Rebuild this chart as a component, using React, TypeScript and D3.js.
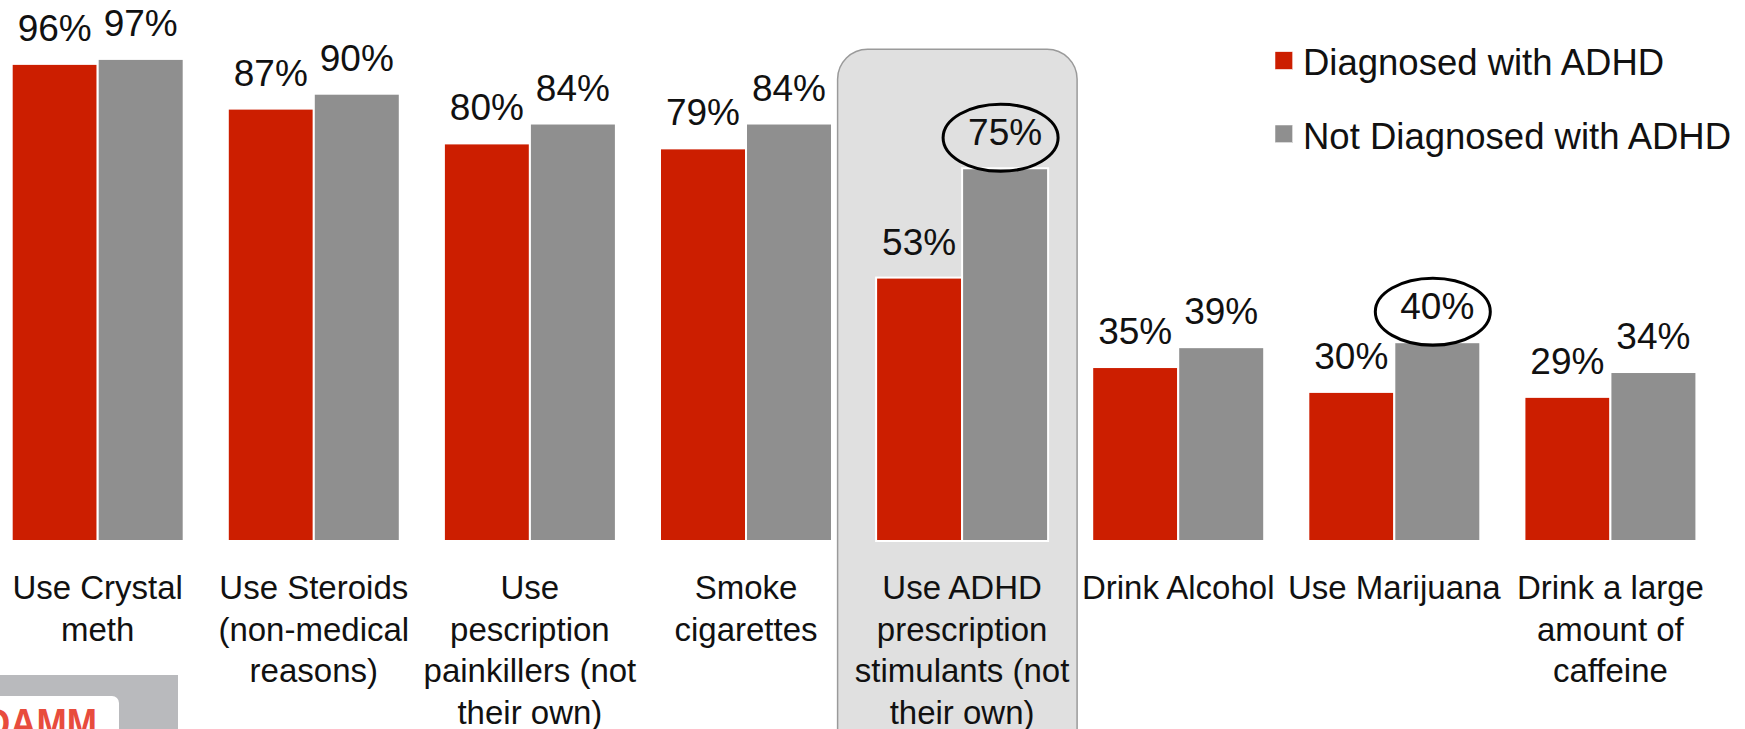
import React from "react";
import * as d3 from "d3";

const W = 1745;
const H = 729;

const categories = [
  "Use Crystal meth",
  "Use Steroids (non-medical reasons)",
  "Use pescription painkillers (not their own)",
  "Smoke cigarettes",
  "Use ADHD prescription stimulants (not their own)",
  "Drink Alcohol",
  "Use Marijuana",
  "Drink a large amount of caffeine",
];

const categoryLines = [
  ["Use Crystal", "meth"],
  ["Use Steroids", "(non-medical", "reasons)"],
  ["Use", "pescription", "painkillers (not", "their own)"],
  ["Smoke", "cigarettes"],
  ["Use ADHD", "prescription", "stimulants (not", "their own)"],
  ["Drink Alcohol"],
  ["Use Marijuana"],
  ["Drink a large", "amount of", "caffeine"],
];

const seriesNames = ["Diagnosed with ADHD", "Not Diagnosed with ADHD"];
const seriesColors = ["#cc1e00", "#8f8f8f"];

const diagnosed = [96, 87, 80, 79, 53, 35, 30, 29];
const notDiagnosed = [97, 90, 84, 84, 75, 39, 40, 34];

const highlightedCategory = "Use ADHD prescription stimulants (not their own)";
const circledNotDiagnosed = ["Use ADHD prescription stimulants (not their own)", "Use Marijuana"];

const FONT = "'Liberation Sans', Arial, Helvetica, sans-serif";

export default function App() {
  const x = d3
    .scaleBand<string>()
    .domain(categories)
    .range([-10.35, 1718.45])
    .paddingInner(0.2041)
    .paddingOuter(0.102);
  const inner = d3.scaleBand<string>().domain(seriesNames).range([0, x.bandwidth()]).padding(0);
  const y = d3.scaleLinear().domain([0, 100]).range([541, 44]);

  const seriesValues = [diagnosed, notDiagnosed];

  const hx = (x(highlightedCategory) as number) + x.bandwidth() / 2 - 124.5;

  return (
    <div style={{ position: "absolute", left: 0, top: 0, width: W, height: H, overflow: "hidden", background: "#fff" }}>
      <svg width={W} height={H} style={{ display: "block" }} fontFamily={FONT}>
        <rect x={0} y={0} width={W} height={H} fill="#ffffff" />
        {/* highlight box */}
        <rect x={hx} y={49.3} width={239.5} height={760} rx={30} ry={30} fill="#e0e0e0" stroke="#9a9a9a" strokeWidth={1.5} />

        {/* bars */}
        {categories.map((c, i) => (
          <g key={c} transform={`translate(${x(c)},0)`}>
            {seriesNames.map((s, si) => {
              const v = seriesValues[si][i];
              return (
                <rect
                  key={s}
                  x={inner(s)}
                  y={y(v)}
                  width={inner.bandwidth()}
                  height={y(0) - y(v)}
                  fill={seriesColors[si]}
                  stroke="#ffffff"
                  strokeWidth={2}
                />
              );
            })}
            {seriesNames.map((s, si) => {
              const v = seriesValues[si][i];
              return (
                <text
                  key={s + "l"}
                  x={(inner(s) as number) + inner.bandwidth() / 2}
                  y={y(v) - 23}
                  textAnchor="middle"
                  fontSize={37}
                  fill="#111"
                >
                  {v}%
                </text>
              );
            })}
            {circledNotDiagnosed.includes(c) && (
              <ellipse
                cx={(inner(seriesNames[1]) as number) + inner.bandwidth() / 2 - 4.5}
                cy={y(notDiagnosed[i]) - 30.5}
                rx={57.5}
                ry={33.5}
                fill="none"
                stroke="#000"
                strokeWidth={3}
              />
            )}
            <text x={x.bandwidth() / 2} y={599} textAnchor="middle" fontSize={33} fill="#111">
              {categoryLines[i].map((ln, li) => (
                <tspan key={li} x={x.bandwidth() / 2} dy={li === 0 ? 0 : 41.5}>
                  {ln}
                </tspan>
              ))}
            </text>
          </g>
        ))}

        {/* legend */}
        {seriesNames.map((s, si) => (
          <g key={s} transform={`translate(1275,${51.7 + si * 73.3})`}>
            <rect x={0} y={0} width={17.7} height={17.7} fill={seriesColors[si]} stroke="#fff" strokeWidth={0.5} />
            <text x={28} y={23.5} fontSize={36.5} fill="#111">
              {s}
            </text>
          </g>
        ))}

        {/* logo remnant */}
        <rect x={0} y={675} width={178} height={60} fill="#b9babd" />
        <rect x={-20} y={696} width={139} height={50} rx={7} fill="#ffffff" />
        <text x={-16} y={737} fontSize={40} fontWeight="bold" fill="#e84c3d" textLength={113} lengthAdjust="spacingAndGlyphs">
          DAMM
        </text>
      </svg>
    </div>
  );
}
